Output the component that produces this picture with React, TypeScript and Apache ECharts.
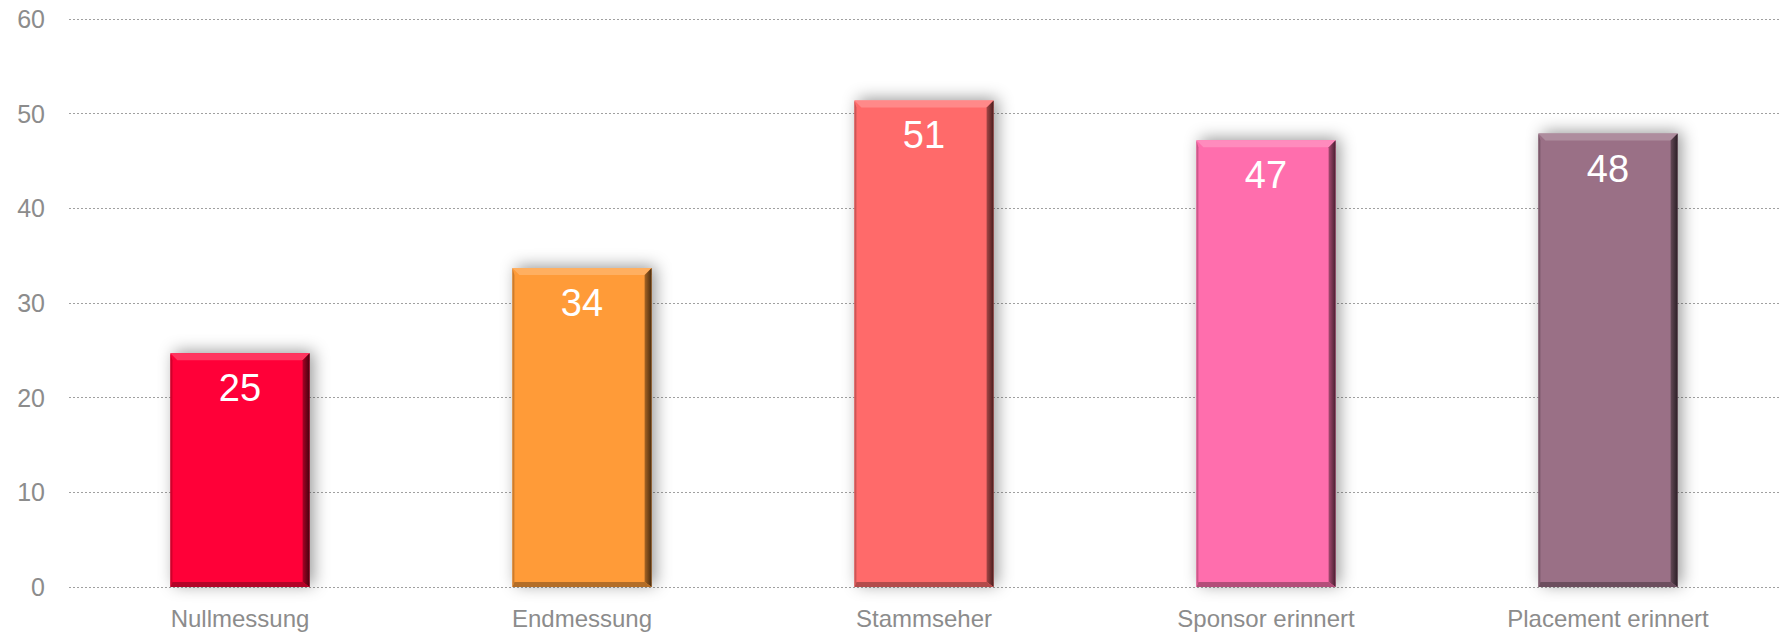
import React, { useEffect, useRef } from "react";
import * as echarts from "echarts";

const categories = ["Nullmessung", "Endmessung", "Stammseher", "Sponsor erinnert", "Placement erinnert"];
const values = [24.7, 33.7, 51.4, 47.2, 47.9];
const barColors = ["#FF0337", "#FF9B38", "#FF6B6B", "#FF6EAD", "#9A7086"];
const yMin = 0;
const yMax = 60;
const yInterval = 10;

function mix(hex: string, target: number, t: number): string {
  const h = hex.replace("#", "");
  const r = parseInt(h.slice(0, 2), 16);
  const g = parseInt(h.slice(2, 4), 16);
  const b = parseInt(h.slice(4, 6), 16);
  const m = (c: number) => Math.round(c + (target - c) * t);
  return `rgb(${m(r)},${m(g)},${m(b)})`;
}

export default function App() {
  const ref = useRef<HTMLDivElement>(null);
  useEffect(() => {
    if (!ref.current) return;
    const chart = echarts.init(ref.current, undefined, { renderer: "svg" });
    const font = "'Liberation Sans', Arial, Helvetica, sans-serif";
    chart.setOption({
      animation: false,
      backgroundColor: "#ffffff",
      grid: { left: 69, right: 2, top: 19, bottom: 45, containLabel: false },
      xAxis: {
        type: "category",
        data: categories,
        axisLine: { show: false },
        axisTick: { show: false },
        axisLabel: { color: "#8c8c8c", fontSize: 24, fontFamily: font, margin: 19 },
      },
      yAxis: {
        type: "value",
        min: yMin,
        max: yMax,
        interval: yInterval,
        axisLine: { show: false },
        axisTick: { show: false },
        axisLabel: { color: "#8c8c8c", fontSize: 25, fontFamily: font, margin: 24 },
        splitLine: { show: true, lineStyle: { color: "#a0a0a0", width: 1, type: [2, 2] } },
      },
      series: [
        {
          type: "custom",
          encode: { x: 0, y: 1 },
          data: values.map((v, i) => [i, v]),
          renderItem: (params: any, api: any) => {
            const idx = api.value(0);
            const v = api.value(1);
            const top = api.coord([idx, v]);
            const base = api.coord([idx, 0]);
            const bw = api.size([1, 0])[0] * 0.407;
            const x0 = top[0] - bw / 2;
            const x1 = x0 + bw;
            const y0 = top[1];
            const y1 = base[1];
            const b = 7;
            const bl = 2;
            const c = barColors[idx];
            return {
              type: "group",
              children: [
                {
                  type: "rect",
                  shape: { x: x0, y: y0, width: bw, height: y1 - y0 },
                  style: {
                    fill: c,
                    shadowBlur: 16,
                    shadowColor: "rgba(0,0,0,0.4)",
                    shadowOffsetX: 4,
                    shadowOffsetY: -2,
                  },
                },
                {
                  type: "polygon",
                  shape: { points: [[x0, y0], [x1, y0], [x1 - b, y0 + b], [x0 + b, y0 + b]] },
                  style: { fill: mix(c, 255, 0.2) },
                },
                {
                  type: "polygon",
                  shape: { points: [[x1, y0], [x1, y1], [x1 - b, y1 - 5], [x1 - b, y0 + b]] },
                  style: {
                    fill: new echarts.graphic.LinearGradient(0, 0, 1, 0, [
                      { offset: 0, color: mix(c, 0, 0.35) },
                      { offset: 1, color: mix(c, 0, 0.72) },
                    ]),
                  },
                },
                {
                  type: "polygon",
                  shape: { points: [[x0, y1], [x1, y1], [x1 - b, y1 - 5], [x0 + bl, y1 - 5]] },
                  style: { fill: mix(c, 0, 0.3) },
                },
                {
                  type: "polygon",
                  shape: { points: [[x0, y0], [x0 + bl, y0 + b], [x0 + bl, y1 - 5], [x0, y1]] },
                  style: { fill: mix(c, 0, 0.2) },
                },
                {
                  type: "text",
                  x: (x0 + x1) / 2,
                  y: y0 + 16,
                  style: {
                    text: String(Math.round(v)),
                    fill: "#ffffff",
                    fontSize: 38,
                    fontFamily: font,
                    align: "center",
                    verticalAlign: "top",
                  },
                },
              ],
            };
          },
        },
      ],
    });
    return () => chart.dispose();
  }, []);
  return (
    <div
      ref={ref}
      style={{ position: "fixed", left: 0, top: 0, width: 1781, height: 632, background: "#fff" }}
    />
  );
}
